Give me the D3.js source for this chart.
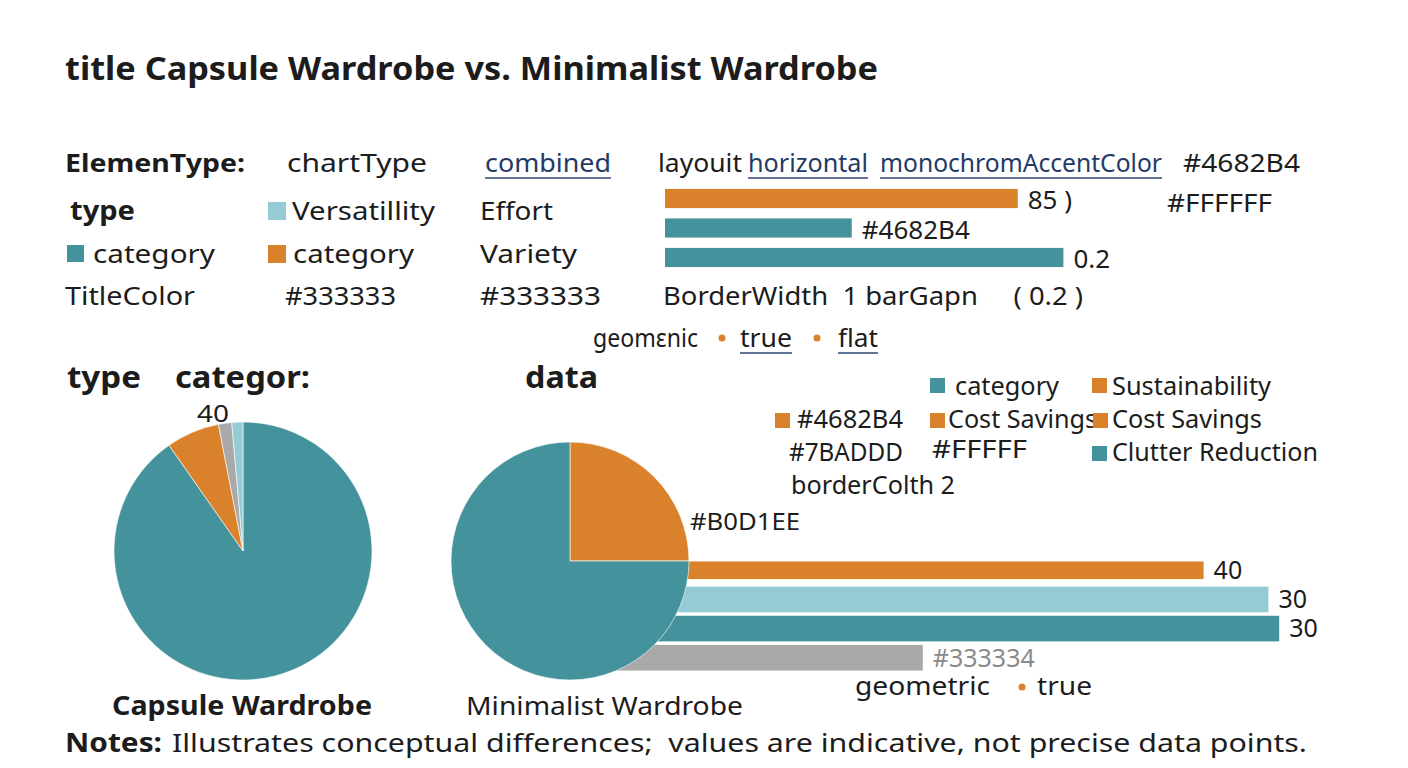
<!DOCTYPE html>
<html>
<head>
<meta charset="utf-8">
<script src="https://cdn.jsdelivr.net/npm/d3@7"></script>
<style>
  html, body { margin: 0; padding: 0; background: #fff; }
  svg { display: block; font-family: "Noto Sans", "Open Sans", sans-serif; }
  svg text { white-space: pre; }
</style>
</head>
<body>
<div id="chart"></div>
<script>
// colours of the picture
const TEAL = "#44939c";
const ORANGE = "#d9822b";
const LIGHT = "#95cbd4";
const GRAY = "#a9a9a9";
const INK = "#1c1c1c";
const NAVY = "#2d4473";

// pie data
const capsuleCats = ["Clutter Reduction", "Cost Savings", "Effort", "Versatillity"];
const capsuleValues = [325, 24, 6, 5];
const capsuleColors = [TEAL, ORANGE, GRAY, LIGHT];

const minimalCats = ["Sustainability", "Clutter Reduction"];
const minimalValues = [25, 75];
const minimalColors = [ORANGE, TEAL];

// upper bars
const topBarValues = [85, 45, 96];
const topBarLabels = ["85 )", "#4682B4", "0.2"];
const topBarColors = [ORANGE, TEAL, TEAL];

// lower bars
const lowBarValues = [88, 97, 98.5, 49];
const lowBarLabels = ["40", "30", "30", "#333334"];
const lowBarColors = [ORANGE, LIGHT, TEAL, GRAY];

const W = 1408, H = 768;
const svg = d3.select("#chart").append("svg").attr("width", W).attr("height", H);
svg.append("rect").attr("width", W).attr("height", H).attr("fill", "#fff");

// text helper: x, baseline y, width to fit
function label(x, y, t, w, o = {}) {
    const el = svg.append("text")
        .attr("x", x).attr("y", y)
        .attr("font-size", o.size || 26)
        .attr("font-weight", o.bold ? 700 : 400)
        .attr("fill", o.fill || INK)
        .attr("xml:space", "preserve")
        .text(t);
    if (w) el.attr("textLength", w).attr("lengthAdjust", "spacingAndGlyphs");
    if (o.under) {
        svg.append("line")
            .attr("x1", x).attr("x2", x + w)
            .attr("y1", y + 6).attr("y2", y + 6)
            .attr("stroke", NAVY).attr("stroke-width", 1.6);
    }
    return el;
}
function swatch(x, y, c, s = 16) {
    svg.append("rect").attr("x", x).attr("y", y).attr("width", s).attr("height", s).attr("fill", c);
}
function dot(x, y) {
    svg.append("circle").attr("cx", x).attr("cy", y).attr("r", 3.5).attr("fill", ORANGE);
}

// title
label(65, 80, "title Capsule Wardrobe vs. Minimalist Wardrobe", 813, { size: 32, bold: true });

// spec rows
label(65, 172, "ElemenType:", 180, { size: 25, bold: true });
label(287, 172, "chartType", 140);
label(485, 172, "combined", 126, { under: true, fill: "#243a66" });
label(658, 172, "layouit", 84);
label(748, 172, "horizontal", 120, { under: true, fill: "#243a66" });
label(880, 172, "monochromAccentColor", 282, { under: true, fill: "#243a66" });
label(1183, 172, "#4682B4", 117);

label(70, 220, "type", 65, { size: 27, bold: true });
swatch(268, 202, LIGHT, 18);
label(292, 220, "Versatillity", 143);
label(480, 220, "Effort", 73);
label(1167, 212, "#FFFFFF", 105);

swatch(67, 245, TEAL, 17);
label(93, 263, "category", 122);
swatch(268, 245, ORANGE, 18);
label(293, 263, "category", 121);
label(480, 263, "Variety", 97);

label(65, 305, "TitleColor", 130);
label(285, 305, "#333333", 111);
label(480, 305, "#333333", 121);
label(663, 305, "BorderWidth  1 barGapn     ( 0.2 )", 420);

label(593, 347, "geomεnic", 105);
dot(722, 338);
label(740, 347, "true", 52, { under: true });
dot(817, 338);
label(838, 347, "flat", 40, { under: true });

// upper bars
const xTop = d3.scaleLinear().domain([0, 100]).range([665, 1080]);
const yTop = d3.scaleBand().domain(d3.range(topBarValues.length)).range([186, 270])
    .paddingInner(0.35).paddingOuter(0.1);
svg.append("g").selectAll("rect").data(topBarValues).join("rect")
    .attr("x", xTop(0)).attr("y", (d, i) => yTop(i))
    .attr("width", d => xTop(d) - xTop(0)).attr("height", yTop.bandwidth())
    .attr("fill", (d, i) => topBarColors[i]);
svg.append("g").selectAll("text").data(topBarValues).join("text")
    .attr("x", d => xTop(d) + 10).attr("y", (d, i) => yTop(i) + yTop.bandwidth() + 1)
    .attr("font-size", 26).attr("fill", INK)
    .text((d, i) => topBarLabels[i]);

// section heads
label(67, 388, "type", 74, { size: 31, bold: true });
label(175, 388, "categor:", 135, { size: 31, bold: true });
label(525, 388, "data", 73, { size: 31, bold: true });
label(197, 422, "40", 32, { size: 23 });

// legend block
swatch(930, 378, TEAL, 15);
label(955, 395, "category", 104, { size: 25 });
swatch(1092, 378, ORANGE, 15);
label(1112, 395, "Sustainability", 159, { size: 25 });
swatch(775, 413, ORANGE, 15);
label(797, 428, "#4682B4", 106, { size: 25 });
swatch(930, 413, ORANGE, 15);
label(948, 428, "Cost Savings", 149, { size: 25 });
swatch(1093, 413, ORANGE, 15);
label(1112, 428, "Cost Savings", 150, { size: 25 });
label(789, 461, "#7BADDD", 114, { size: 25 });
label(932, 458, "#FFFFF", 95, { size: 25 });
swatch(1092, 446, TEAL, 15);
label(1112, 461, "Clutter Reduction", 206, { size: 25 });
label(791, 494, "borderColth 2", 164, { size: 25 });
label(690, 530, "#B0D1EE", 110, { size: 24 });

// lower bars (behind the second pie)
const xLow = d3.scaleLinear().domain([0, 100]).range([570, 1290]);
const yLow = d3.scaleBand().domain(d3.range(lowBarValues.length)).range([556, 672])
    .paddingInner(0.12).paddingOuter(0.05);
svg.append("g").selectAll("rect").data(lowBarValues).join("rect")
    .attr("x", xLow(0)).attr("y", (d, i) => yLow(i) + (i === 0 ? 4 : 0))
    .attr("width", d => xLow(d) - xLow(0))
    .attr("height", (d, i) => yLow.bandwidth() - (i === 0 ? 8 : 0))
    .attr("fill", (d, i) => lowBarColors[i]);
svg.append("g").selectAll("text").data(lowBarValues).join("text")
    .attr("x", d => xLow(d) + 10)
    .attr("y", (d, i) => yLow(i) + yLow.bandwidth() - 4)
    .attr("font-size", 25)
    .attr("fill", (d, i) => i === 3 ? "#8a8a8a" : INK)
    .text((d, i) => lowBarLabels[i]);

// pies
const pie = d3.pie().sort(null);
function drawPie(values, colors, cx, cy, r) {
    const arc = d3.arc().innerRadius(0).outerRadius(r);
    svg.append("g").attr("transform", `translate(${cx},${cy})`)
        .selectAll("path").data(pie(values)).join("path")
        .attr("d", arc)
        .attr("fill", (d, i) => colors[i])
        .attr("stroke", "#fff").attr("stroke-width", 0.6);
}
drawPie(capsuleValues, capsuleColors, 243, 551, 129);
drawPie(minimalValues, minimalColors, 570, 561, 119);

label(855, 695, "geometric", 135, { size: 25 });
dot(1022, 687);
label(1037, 695, "true", 55, { size: 25 });

label(112, 715, "Capsule Wardrobe", 260, { size: 26, bold: true });
label(466, 715, "Minimalist Wardrobe", 277, { size: 26 });

label(65, 752, "Notes:", 97, { size: 26, bold: true });
label(172, 752, "Illustrates conceptual differences;  values are indicative, not precise data points.", 1135, { size: 26 });
</script>
</body>
</html>
